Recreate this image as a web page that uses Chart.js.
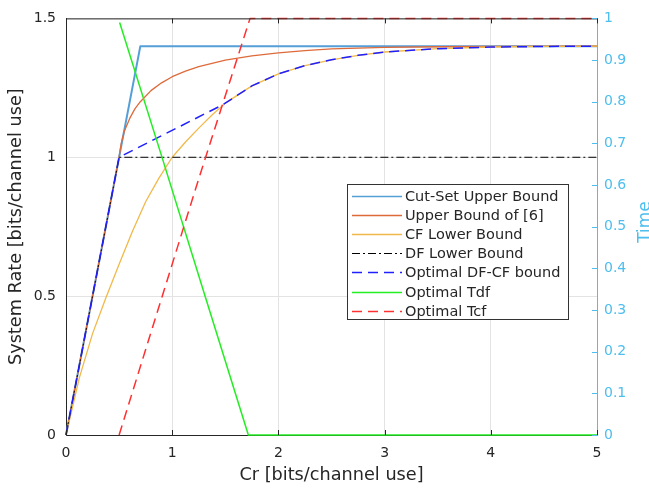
<!DOCTYPE html>
<html>
<head>
<meta charset="utf-8">
<script src="https://cdn.jsdelivr.net/npm/chart.js@4/dist/chart.umd.min.js"></script>
<style>
html,body{margin:0;padding:0;background:#fff;}
#wrap{width:649px;height:491px;position:relative;}
</style>
</head>
<body>
<div id="wrap"><canvas id="c" width="649" height="491"></canvas></div>
<script>
// ---- Data ----
const seriesNames = ["Cut-Set Upper Bound","Upper Bound of [6]","CF Lower Bound","DF Lower Bound","Optimal DF-CF bound","Optimal Tdf","Optimal Tcf"];

const cutSetX = [0, 0.7, 5];
const cutSetY = [0, 1.4, 1.4];

const upperX = [0, 0.5, 0.52, 0.55, 0.6, 0.65, 0.7, 0.8, 0.9, 1.0, 1.125, 1.25, 1.5, 1.75, 2.0, 2.25, 2.5, 3.0, 3.5, 4.0, 5.0];
const upperY = [0, 1.0, 1.05, 1.095, 1.14, 1.175, 1.2, 1.24, 1.268, 1.29, 1.31, 1.326, 1.35, 1.365, 1.376, 1.384, 1.39, 1.396, 1.398, 1.399, 1.4];

const cfX = [0, 0.125, 0.25, 0.375, 0.5, 0.625, 0.75, 0.875, 1.0, 1.125, 1.25, 1.375, 1.5, 1.75, 2.0, 2.25, 2.5, 2.75, 3.0, 3.5, 4.0, 4.5, 5.0];
const cfY = [0, 0.205, 0.365, 0.493, 0.615, 0.733, 0.84, 0.925, 1.0, 1.055, 1.105, 1.152, 1.195, 1.257, 1.30, 1.33, 1.351, 1.367, 1.379, 1.391, 1.397, 1.399, 1.4];

const dfX = [0, 0.5, 5];
const dfY = [0, 1.0, 1.0];

const dfcfX = [0, 0.5, 1.48, 1.75, 2.0, 2.25, 2.5, 2.75, 3.0, 3.5, 4.0, 4.5, 5.0];
const dfcfY = [0, 1.0, 1.19, 1.257, 1.30, 1.33, 1.351, 1.367, 1.379, 1.391, 1.397, 1.399, 1.4];

const tdfX = [0.505, 0.9, 1.31, 1.717, 2, 3, 4, 5];
const tdfY = [0.99, 0.67, 0.333, 0, 0, 0, 0, 0];

const tcfX = [0.5, 0.89, 1.25, 1.733, 2, 3, 4, 5];
const tcfY = [0, 0.32, 0.615, 1.0, 1.0, 1.0, 1.0, 1.0];

const xTicks = [0, 1, 2, 3, 4, 5];
const leftTicks = [0, 0.5, 1, 1.5];
const rightTicks = [0, 0.1, 0.2, 0.3, 0.4, 0.5, 0.6, 0.7, 0.8, 0.9, 1];

// ---- Build ----
function pts(xs, ys){ return xs.map((x,i)=>({x:x, y:ys[i]})); }

const FONT = "'DejaVu Sans', sans-serif";
const AXC = '#262626';
const RIGHTC = '#4DBEEE';

const styles = [
  {c:'#559fd8', w:2, dash:[], axis:'y'},
  {c:'#de6a3a', w:1.3, dash:[], axis:'y'},
  {c:'#f1b94a', w:1.3, dash:[], axis:'y'},
  {c:'#000000', w:1, dash:[8,3,2,3], axis:'y'},
  {c:'#2020ff', w:1.5, dash:[10,6], axis:'y'},
  {c:'#22ee22', w:1.5, dash:[], axis:'y2'},
  {c:'#ff3030', w:1.5, dash:[10,6], axis:'y2'}
];
const dataPts = [
  pts(cutSetX, cutSetY), pts(upperX, upperY), pts(cfX, cfY), pts(dfX, dfY),
  pts(dfcfX, dfcfY), pts(tdfX, tdfY), pts(tcfX, tcfY)
];

const datasets = seriesNames.map((n,i)=>({
  label: n,
  data: dataPts[i],
  borderColor: styles[i].c,
  backgroundColor: styles[i].c,
  borderWidth: styles[i].w,
  borderDash: styles[i].dash,
  pointRadius: 0,
  fill: false,
  tension: 0,
  yAxisID: styles[i].axis,
  order: 7 - i,
  clip: false
}));

const decorPlugin = {
  id: 'decor',
  afterDatasetsDraw(chart){
    const ctx = chart.ctx, ca = chart.chartArea;
    const xs = chart.scales.x, yr = chart.scales.y2;
    ctx.save();
    ctx.lineWidth = 1;
    ctx.strokeStyle = AXC;
    ctx.beginPath();
    ctx.moveTo(ca.left, ca.top + 0.5); ctx.lineTo(ca.right, ca.top + 0.5);
    ctx.stroke();
    xTicks.forEach(v=>{
      const px = Math.round(xs.getPixelForValue(v)) + 0.5;
      ctx.beginPath();
      ctx.moveTo(px, ca.top); ctx.lineTo(px, ca.top + 5);
      ctx.moveTo(px, ca.bottom); ctx.lineTo(px, ca.bottom - 5);
      ctx.stroke();
    });
    ctx.strokeStyle = RIGHTC;
    rightTicks.forEach(v=>{
      const py = Math.round(yr.getPixelForValue(v)) + 0.5;
      ctx.beginPath();
      ctx.moveTo(ca.right, py); ctx.lineTo(ca.right - 5, py);
      ctx.stroke();
    });
    // right axis title "Time" (reads bottom to top)
    ctx.fillStyle = RIGHTC;
    ctx.font = "17px " + FONT;
    ctx.translate(650, 222);
    ctx.rotate(-Math.PI / 2);
    ctx.textAlign = 'center';
    ctx.textBaseline = 'alphabetic';
    ctx.fillText('Time', 0, 0);
    ctx.restore();

    // legend
    ctx.save();
    const L = 347, T = 184, R = 568, B = 319;
    ctx.fillStyle = '#ffffff';
    ctx.fillRect(L, T, R - L, B - T);
    ctx.strokeStyle = '#333333';
    ctx.lineWidth = 1;
    ctx.strokeRect(L + 0.5, T + 0.5, R - L, B - T);
    const rowH = 19.17, y0 = 195.7;
    ctx.font = "14.5px " + FONT;
    ctx.textBaseline = 'middle';
    ctx.textAlign = 'left';
    chart.data.datasets.forEach((ds, i)=>{
      const y = Math.round(y0 + i * rowH) + 0.5;
      ctx.strokeStyle = ds.borderColor;
      ctx.lineWidth = Math.min(ds.borderWidth, 1.5);
      ctx.setLineDash(ds.borderDash || []);
      ctx.beginPath();
      ctx.moveTo(352, y); ctx.lineTo(402, y);
      ctx.stroke();
      ctx.setLineDash([]);
      ctx.fillStyle = AXC;
      ctx.fillText(ds.label, 405, y + 0.5);
    });
    ctx.restore();
  }
};

const fmt = v => String(+(+v).toFixed(2));

new Chart(document.getElementById('c'), {
  type: 'line',
  data: { datasets },
  plugins: [decorPlugin],
  options: {
    responsive: false,
    animation: false,
    devicePixelRatio: 1,
    layout: { padding: { top: 15, left: 0, right: 0, bottom: 0 } },
    plugins: { legend: { display: false }, tooltip: { enabled: false } },
    elements: { line: { borderCapStyle: 'butt', borderJoinStyle: 'round' } },
    scales: {
      x: {
        type: 'linear', position: 'bottom', min: 0, max: 5,
        afterFit(s){ s.height = 56; },
        afterBuildTicks(s){ s.ticks = xTicks.map(v=>({value:v})); },
        grid: { color: '#e3e3e3', lineWidth: 1, drawTicks: false },
        border: { color: AXC, width: 1 },
        ticks: { color: AXC, font: { family: FONT, size: 14 }, padding: 10, callback: fmt, maxRotation: 0 },
        title: { display: true, text: 'Cr [bits/channel use]', color: AXC, font: { family: FONT, size: 17.7 }, padding: { top: 0, bottom: 5 } }
      },
      y: {
        type: 'linear', position: 'left', min: 0, max: 1.5,
        afterFit(s){ s.width = 66; },
        afterBuildTicks(s){ s.ticks = leftTicks.map(v=>({value:v})); },
        grid: { color: '#e3e3e3', lineWidth: 1, drawTicks: false },
        border: { color: AXC, width: 1 },
        ticks: { color: AXC, font: { family: FONT, size: 14 }, padding: 10, callback: fmt },
        title: { display: true, text: 'System Rate [bits/channel use]', color: AXC, font: { family: FONT, size: 17.7 }, padding: { top: 6, bottom: 0 } }
      },
      y2: {
        type: 'linear', position: 'right', min: 0, max: 1,
        afterFit(s){ s.width = 52; },
        afterBuildTicks(s){ s.ticks = rightTicks.map(v=>({value:v})); },
        grid: { display: false, drawTicks: false },
        border: { color: RIGHTC, width: 1 },
        ticks: { color: RIGHTC, font: { family: FONT, size: 14 }, padding: 7, callback: fmt }
      }
    }
  }
});
</script>
</body>
</html>
